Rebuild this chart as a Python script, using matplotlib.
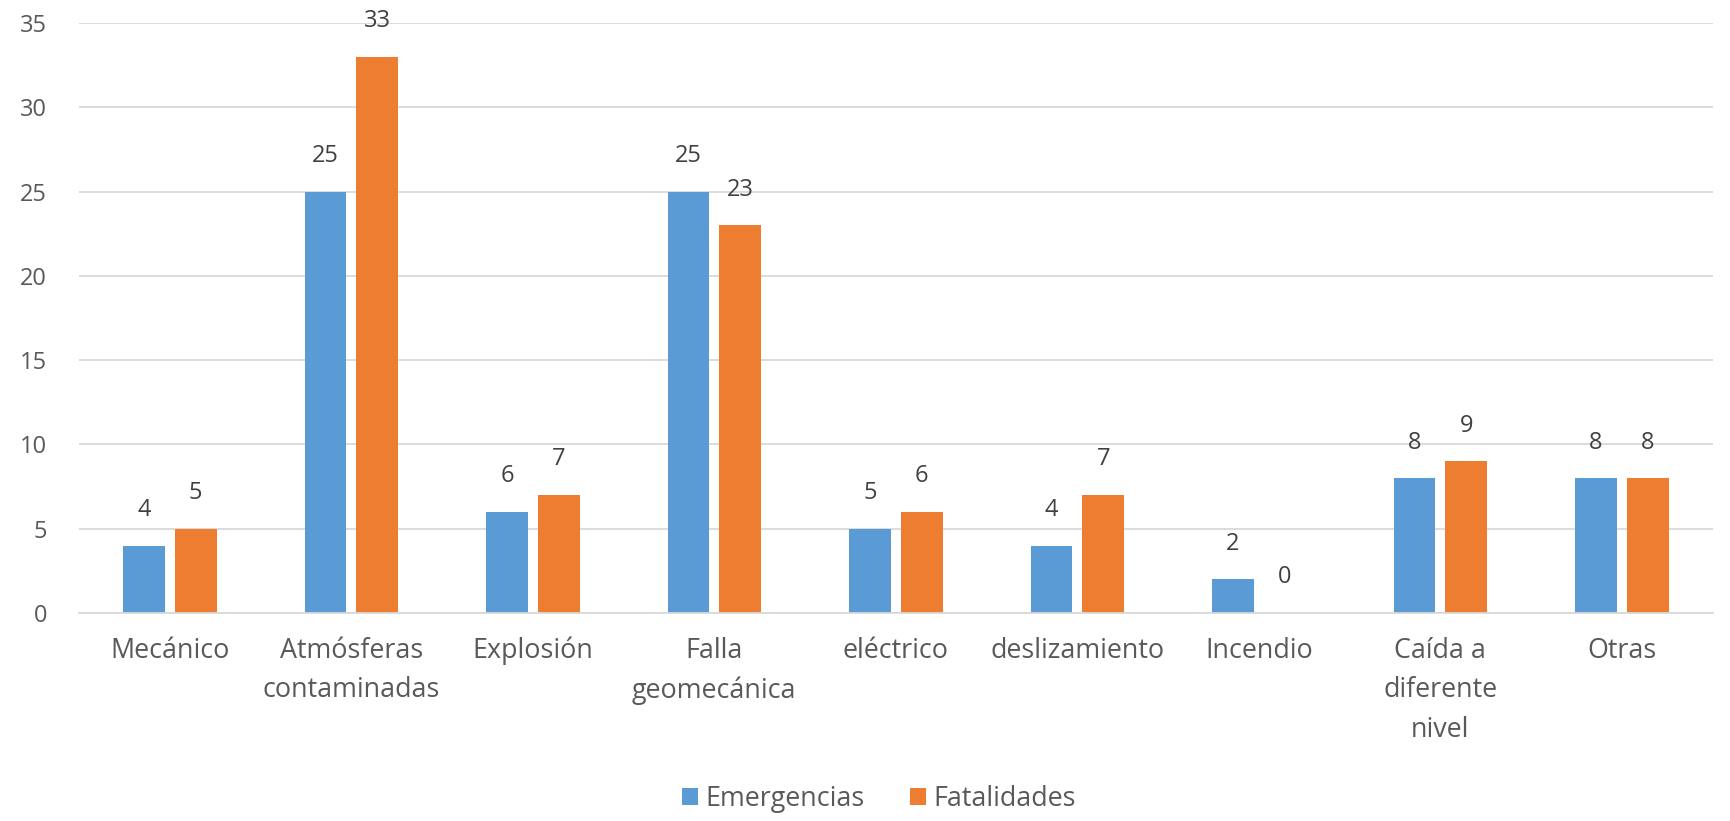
import matplotlib
matplotlib.use("Agg")
import matplotlib.pyplot as plt
import numpy as np

# datos del grafico
categorias = ["Mecánico", "Atmósferas\ncontaminadas", "Explosión", "Falla\ngeomecánica",
              "eléctrico", "deslizamiento", "Incendio", "Caída a\ndiferente\nnivel", "Otras"]
emergencias = [4, 25, 6, 25, 5, 4, 2, 8, 8]
fatalidades = [5, 33, 7, 23, 6, 7, 0, 9, 8]
series = ["Emergencias", "Fatalidades"]

plt.rcParams['font.family'] = ['Open Sans', 'DejaVu Sans']

azul = "#5B9BD5"
naranja = "#ED7D31"
gris = "#D9D9D9"

fig = plt.figure(figsize=(17.3, 8.21), dpi=100)
ax = fig.add_axes([0.0457, 0.2533, 0.9443, 0.7187])

x = np.arange(len(categorias))
w = 0.23
off = 0.1425
b1 = ax.bar(x - off, emergencias, w, color=azul, label=series[0])
b2 = ax.bar(x + off, fatalidades, w, color=naranja, label=series[1])

for barras in (b1, b2):
    for b in barras:
        ax.annotate(str(int(b.get_height())), (b.get_x() + b.get_width() / 2, b.get_height()),
                    xytext=(0, 17), textcoords="offset points", ha="center", va="bottom",
                    fontsize=17, color="#404040")

ax.set_xlim(-0.5, len(categorias) - 0.5)
ax.set_ylim(0, 35)
ax.set_yticks(range(0, 36, 5))
ax.grid(axis="y", color=gris, linewidth=1.3)
ax.set_axisbelow(True)
for s in ["top", "right", "left"]:
    ax.spines[s].set_visible(False)
ax.spines["bottom"].set_color(gris)
ax.spines["bottom"].set_linewidth(1.3)

ax.set_xticks(x)
ax.set_xticklabels(categorias, fontsize=19.4, color="#595959", linespacing=1.55, va="top")
ax.tick_params(axis="x", length=0, pad=17)
ax.tick_params(axis="y", length=0, pad=23, labelsize=17, labelcolor="#595959")

fig.legend(loc="center", bbox_to_anchor=(0.508, 0.027), ncol=2, frameon=False,
           fontsize=19.4, handlelength=0.6, handleheight=0.6, handletextpad=0.27,
           columnspacing=1.67, labelcolor="#595959")

fig.savefig("out.png", dpi=100)
